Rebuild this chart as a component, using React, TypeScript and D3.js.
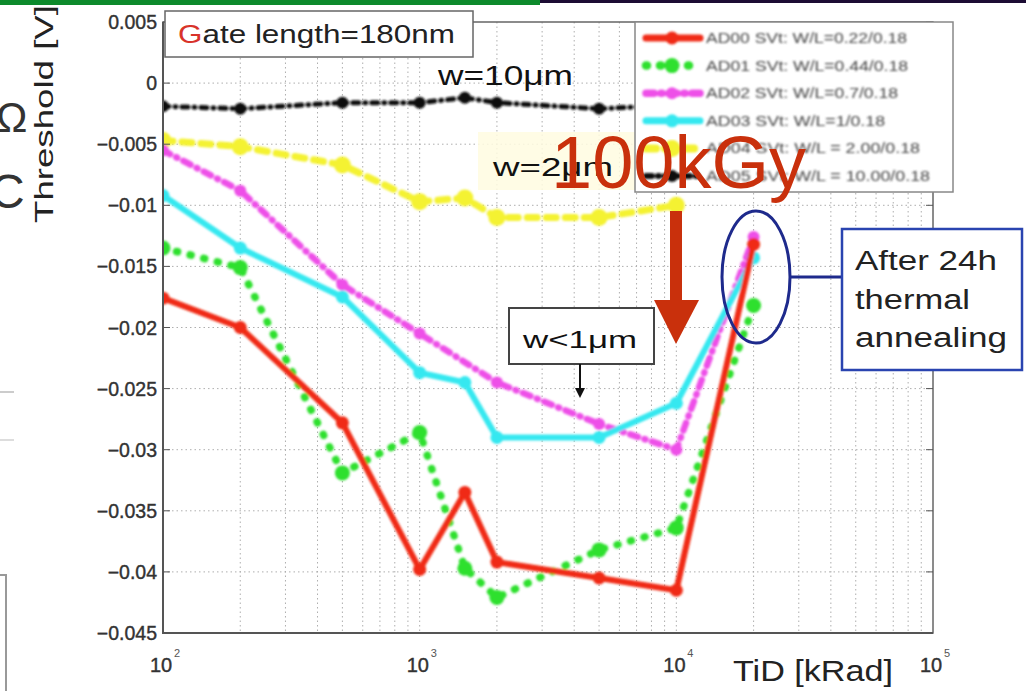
import React from "react";
import * as d3 from "d3";

const doses = [100, 200, 500, 1000, 1500, 2000, 5000, 10000, 20000];
const ad00 = [-0.0176, -0.0200, -0.0278, -0.0398, -0.0335, -0.0392, -0.0405, -0.0415, -0.0132];
const ad01 = [-0.0135, -0.0151, -0.0319, -0.0286, -0.0397, -0.0421, -0.0382, -0.0364, -0.0182];
const ad02 = [-0.0055, -0.0088, -0.0165, -0.0205, null, -0.0245, -0.0279, -0.0300, -0.0126];
const ad03 = [-0.0092, -0.0135, -0.0175, -0.0237, -0.0245, -0.0290, -0.0290, -0.0262, -0.0143];
const ad04 = [-0.0047, -0.0052, -0.0067, -0.0097, -0.0094, -0.0110, -0.0110, -0.0100, null];
const ad05 = [-0.0019, -0.0021, -0.0016, -0.0016, -0.0012, -0.0016, -0.0021, -0.0018, null];

const seriesNames = [
  "AD00 SVt: W/L=0.22/0.18",
  "AD01 SVt: W/L=0.44/0.18",
  "AD02 SVt: W/L=0.7/0.18",
  "AD03 SVt: W/L=1/0.18",
  "AD04 SVt: W/L = 2.00/0.18",
  "AD05 SVt: W/L = 10.00/0.18",
];
const legendWidths = [201, 202, 192, 179, 214, 224];
const yTicks = [0.005, 0, -0.005, -0.01, -0.015, -0.02, -0.025, -0.03, -0.035, -0.04, -0.045];
const xDecades = [100, 1000, 10000, 100000];

const styles = [
  { color: "#f02a12", width: 6, dash: "", r: 6.5 },
  { color: "#2fe02f", width: 7.5, dash: "1 13", r: 7.5 },
  { color: "#ee4fe8", width: 6.5, dash: "8 7 1 7", r: 6 },
  { color: "#36e8f0", width: 6, dash: "", r: 6.5 },
  { color: "#f4f230", width: 7, dash: "10 9", r: 8.5 },
  { color: "#111111", width: 5, dash: "6 6 1 6", r: 6 },
];

export default function App() {
  const W = 1026, H = 691;
  const x = d3.scaleLog().domain([100, 100000]).range([163, 933]);
  const y = d3.scaleLinear().domain([-0.045, 0.005]).range([633, 22]);
  const allSeries = [ad00, ad01, ad02, ad03, ad04, ad05];
  const drawOrder = [4, 5, 2, 3, 1, 0];

  const minor: number[] = [];
  for (let d = 100; d < 100000; d *= 10) for (let k = 2; k <= 9; k++) minor.push(d * k);

  const line = d3
    .line<[number, number]>()
    .x((d) => x(d[0]))
    .y((d) => y(d[1]));

  const fmt = (v: number) => (v === 0 ? "0" : (v < 0 ? "\u2212" : "") + String(Math.abs(v)));

  return (
    <svg
      width={W}
      height={H}
      style={{ position: "absolute", left: 0, top: 0, background: "#fff" }}
      fontFamily="Liberation Sans, Arial, sans-serif"
    >
      <defs>
        <filter id="soft" x="-5%" y="-5%" width="110%" height="110%">
          <feGaussianBlur stdDeviation="0.8" />
        </filter>
        <clipPath id="plotclip">
          <rect x={163} y={22} width={770} height={611} />
        </clipPath>
      </defs>
      {/* top banner */}
      <rect x={0} y={0} width={540} height={5} fill="#0d8a2c" />
      <rect x={540} y={0} width={486} height={3} fill="#1c0c34" />
      {/* left-edge fragments */}
      <line x1={0} y1={392} x2={14} y2={392} stroke="#ccc" strokeWidth={2} />
      <line x1={0} y1={440} x2={14} y2={440} stroke="#ddd" strokeWidth={2} />
      <rect x={-10} y={575} width={16} height={130} fill="none" stroke="#999" strokeWidth={2} />
      <text x={-4} y={132} fontSize={42} fill="#333">Ω</text>
      <text x={-10} y={208} fontSize={48} fill="#333">C</text>

      {/* grid */}
      <g stroke="#9a9a9a" strokeWidth={1} strokeDasharray="1.5 3" opacity={0.8}>
        {minor.map((m) => (
          <line key={"v" + m} x1={x(m)} x2={x(m)} y1={22} y2={633} />
        ))}
        {xDecades.slice(1, 3).map((m) => (
          <line key={"vd" + m} x1={x(m)} x2={x(m)} y1={22} y2={633} />
        ))}
        {yTicks.slice(1, -1).map((t) => (
          <line key={"h" + t} x1={163} x2={933} y1={y(t)} y2={y(t)} />
        ))}
      </g>

      {/* w=2um highlight */}
      <rect x={478} y={132} width={162} height={58} fill="#fffbe0" opacity={0.85} />

      {/* series */}
      <g clipPath="url(#plotclip)" filter="url(#soft)">
        {drawOrder.map((i) => {
          const s = styles[i];
          const pts = doses
            .map((d, j) => [d, allSeries[i][j]] as [number, number | null])
            .filter((p) => p[1] !== null) as [number, number][];
          return (
            <g key={"s" + i}>
              <path
                d={line(pts) || ""}
                fill="none"
                stroke={s.color}
                strokeWidth={s.width}
                strokeDasharray={s.dash}
                strokeLinecap="round"
                strokeLinejoin="round"
              />
              {pts.map((p, k) => (
                <circle key={k} cx={x(p[0])} cy={y(p[1])} r={s.r} fill={s.color} />
              ))}
            </g>
          );
        })}
      </g>

      {/* axes frame */}
      <rect x={163} y={22} width={770} height={611} fill="none" stroke="#666" strokeWidth={1.5} />
      <line x1={163} x2={163} y1={22} y2={634} stroke="#555" strokeWidth={2} />
      <line x1={162} x2={933} y1={633} y2={633} stroke="#555" strokeWidth={2} />

      {/* y ticks */}
      {yTicks.map((t) => (
        <g key={"yt" + t}>
          <line x1={163} x2={170} y1={y(t)} y2={y(t)} stroke="#555" />
          <line x1={926} x2={933} y1={y(t)} y2={y(t)} stroke="#555" />
          <text
            x={157}
            y={y(t) + 7}
            textAnchor="end"
            fontSize={19.5}
            fill="#333"
            stroke="#333"
            strokeWidth={0.4}
          >
            {fmt(t)}
          </text>
        </g>
      ))}
      {/* x ticks */}
      {xDecades.map((d) => (
        <g key={"xt" + d}>
          <text x={x(d) - 13} y={672} fontSize={20} fill="#333" stroke="#333" strokeWidth={0.4}>
            10
          </text>
          <text x={x(d) + 11} y={657} fontSize={11} fill="#555">
            {Math.round(Math.log10(d))}
          </text>
        </g>
      ))}
      <text x={733} y={681} fontSize={29} fill="#222" textLength={160} lengthAdjust="spacingAndGlyphs">
        TiD [kRad]
      </text>
      <text
        transform="translate(53,114) rotate(-90)"
        textAnchor="middle"
        fontSize={25}
        fill="#222"
        textLength={218}
        lengthAdjust="spacingAndGlyphs"
      >
        Threshold [V]
      </text>

      {/* Gate length box */}
      <rect x={165} y={11} width={308} height={46} fill="#fff" stroke="#666" strokeWidth={1.5} />
      <text x={178} y={43} fontSize={25} fill="#222" textLength={277} lengthAdjust="spacingAndGlyphs">
        <tspan fill="#d8332a">G</tspan>ate length=180nm
      </text>

      <text x={438} y={85} fontSize={28} fill="#111" textLength={135} lengthAdjust="spacingAndGlyphs">
        w=10μm
      </text>
      <text x={493} y={176} fontSize={25} fill="#111" textLength={120} lengthAdjust="spacingAndGlyphs">
        w=2μm
      </text>

      {/* legend */}
      <rect x={635} y={22} width={318} height={170} fill="#fff" stroke="#888" strokeWidth={1.5} />
      {seriesNames.map((n, i) => {
        const s = styles[i];
        const ly = 38 + i * 27.6;
        return (
          <g key={"lg" + i} filter="url(#soft)">
            <line
              x1={646}
              x2={700}
              y1={ly}
              y2={ly}
              stroke={s.color}
              strokeWidth={s.width + 1}
              strokeDasharray={s.dash}
              strokeLinecap="round"
            />
            <circle cx={672} cy={ly} r={s.r} fill={s.color} />
            <text
              x={706}
              y={ly + 5}
              fontSize={14}
              fill="#444"
              textLength={legendWidths[i]}
              lengthAdjust="spacingAndGlyphs"
            >
              {n}
            </text>
          </g>
        );
      })}

      {/* 100kGy */}
      <text x={551} y={188} fontSize={74} fill="#c9300c">
        100kGy
      </text>
      {/* red arrow */}
      <rect x={670} y={211} width={12} height={92} fill="#c9300c" />
      <polygon points="654,300 699,300 676,344" fill="#c9300c" />

      {/* w<1um box */}
      <rect x={509} y={308} width={145} height={56} fill="#fff" stroke="#444" strokeWidth={2} />
      <text x={523} y={348} fontSize={24} fill="#111" textLength={114} lengthAdjust="spacingAndGlyphs">
        w&lt;1μm
      </text>
      <line x1={580} x2={580} y1={364} y2={390} stroke="#111" strokeWidth={2} />
      <polygon points="575,388 585,388 580,398" fill="#111" />

      {/* ellipse and annealing box */}
      <ellipse cx={756} cy={277} rx={34} ry={66} fill="none" stroke="#1e2a8c" strokeWidth={3} />
      <line x1={790} x2={842} y1={277} y2={277} stroke="#1e2a8c" strokeWidth={3} />
      <rect x={842} y={229} width={180} height={141} fill="#fff" stroke="#2a44b0" strokeWidth={2.5} />
      <text fontSize={27} fill="#222">
        <tspan x={855} y={270} textLength={142} lengthAdjust="spacingAndGlyphs">After 24h</tspan>
        <tspan x={855} y={309} textLength={115} lengthAdjust="spacingAndGlyphs">thermal</tspan>
        <tspan x={855} y={347} textLength={152} lengthAdjust="spacingAndGlyphs">annealing</tspan>
      </text>
    </svg>
  );
}
